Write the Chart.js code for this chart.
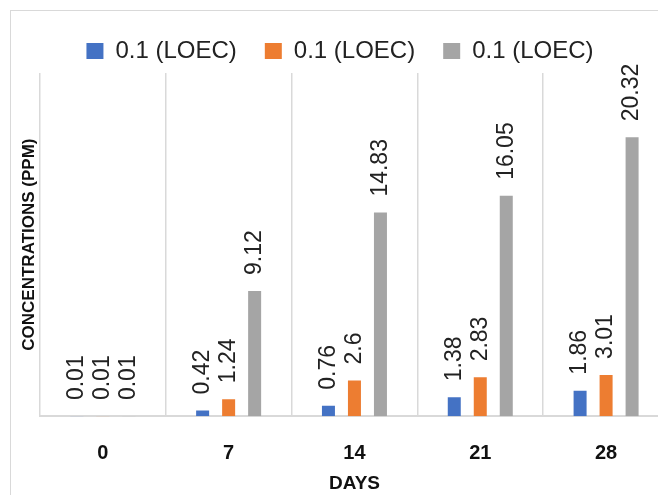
<!DOCTYPE html>
<html>
<head>
<meta charset="utf-8">
<script src="https://cdn.jsdelivr.net/npm/chart.js@4/dist/chart.umd.min.js"></script>
<style>
  html, body { margin: 0; padding: 0; background: #fff; overflow: hidden; }
  #frame { position: absolute; left: 10px; top: 10px; border: 1px solid #d9d9d9; }
  canvas { display: block; }
</style>
</head>
<body>
<div id="frame"><canvas id="chart" width="670" height="490"></canvas></div>
<script>
// Sampling days and measured concentrations (ppm)
const days = ['0', '7', '14', '21', '28'];
const seriesNames = ['0.1 (LOEC)', '0.1 (LOEC)', '0.1 (LOEC)'];
const seriesA = [0.01, 0.42, 0.76, 1.38, 1.86];
const seriesB = [0.01, 1.24, 2.6, 2.83, 3.01];
const seriesC = [0.01, 9.12, 14.83, 16.05, 20.32];
const seriesColors = ['#4472c4', '#ed7d31', '#a5a5a5'];

const FONT = "'Liberation Sans', Arial, sans-serif";

// Vertical value labels above each bar
const barValueLabels = {
  id: 'barValueLabels',
  afterDatasetsDraw(chart) {
    const ctx = chart.ctx;
    ctx.save();
    ctx.font = '23px ' + FONT;
    ctx.fillStyle = '#222';
    ctx.textAlign = 'left';
    ctx.textBaseline = 'middle';
    chart.data.datasets.forEach((ds, i) => {
      const meta = chart.getDatasetMeta(i);
      meta.data.forEach((bar, j) => {
        ctx.save();
        ctx.translate(bar.x, bar.y - 16);
        ctx.rotate(-Math.PI / 2);
        ctx.fillText(String(ds.data[j]), 0, 0);
        ctx.restore();
      });
    });
    ctx.restore();
  }
};

new Chart(document.getElementById('chart'), {
  type: 'bar',
  data: {
    labels: days,
    datasets: [
      { label: seriesNames[0], data: seriesA, backgroundColor: seriesColors[0] },
      { label: seriesNames[1], data: seriesB, backgroundColor: seriesColors[1] },
      { label: seriesNames[2], data: seriesC, backgroundColor: seriesColors[2] }
    ]
  },
  options: {
    responsive: false,
    animation: false,
    devicePixelRatio: 1,
    layout: { padding: { left: 0, right: 12, top: 0, bottom: 6 } },
    datasets: { bar: { barPercentage: 0.5, categoryPercentage: 0.62 } },
    plugins: {
      tooltip: { enabled: false },
      legend: {
        position: 'top',
        labels: {
          boxWidth: 17,
          boxHeight: 16,
          padding: 28,
          color: '#222',
          font: { family: FONT, size: 24 }
        }
      }
    },
    scales: {
      x: {
        grid: { display: true, color: '#d9d9d9', lineWidth: 1.5, drawTicks: false, offset: true },
        border: { display: true, color: '#d9d9d9', width: 2 },
        ticks: { color: '#111', padding: 25, font: { family: FONT, size: 20, weight: 'bold' } },
        title: {
          display: true, text: 'DAYS', color: '#111',
          padding: { top: -18, bottom: 0 },
          font: { family: FONT, size: 19, weight: 'bold' }
        }
      },
      y: {
        min: 0, max: 25,
        grid: { display: false, drawTicks: false },
        border: { display: false },
        ticks: { display: false },
        title: {
          display: true, text: 'CONCENTRATIONS (PPM)', color: '#111',
          padding: { top: 8.5, bottom: 0 },
          font: { family: FONT, size: 17, weight: 'bold' }
        }
      }
    }
  },
  plugins: [barValueLabels]
});
</script>
</body>
</html>
